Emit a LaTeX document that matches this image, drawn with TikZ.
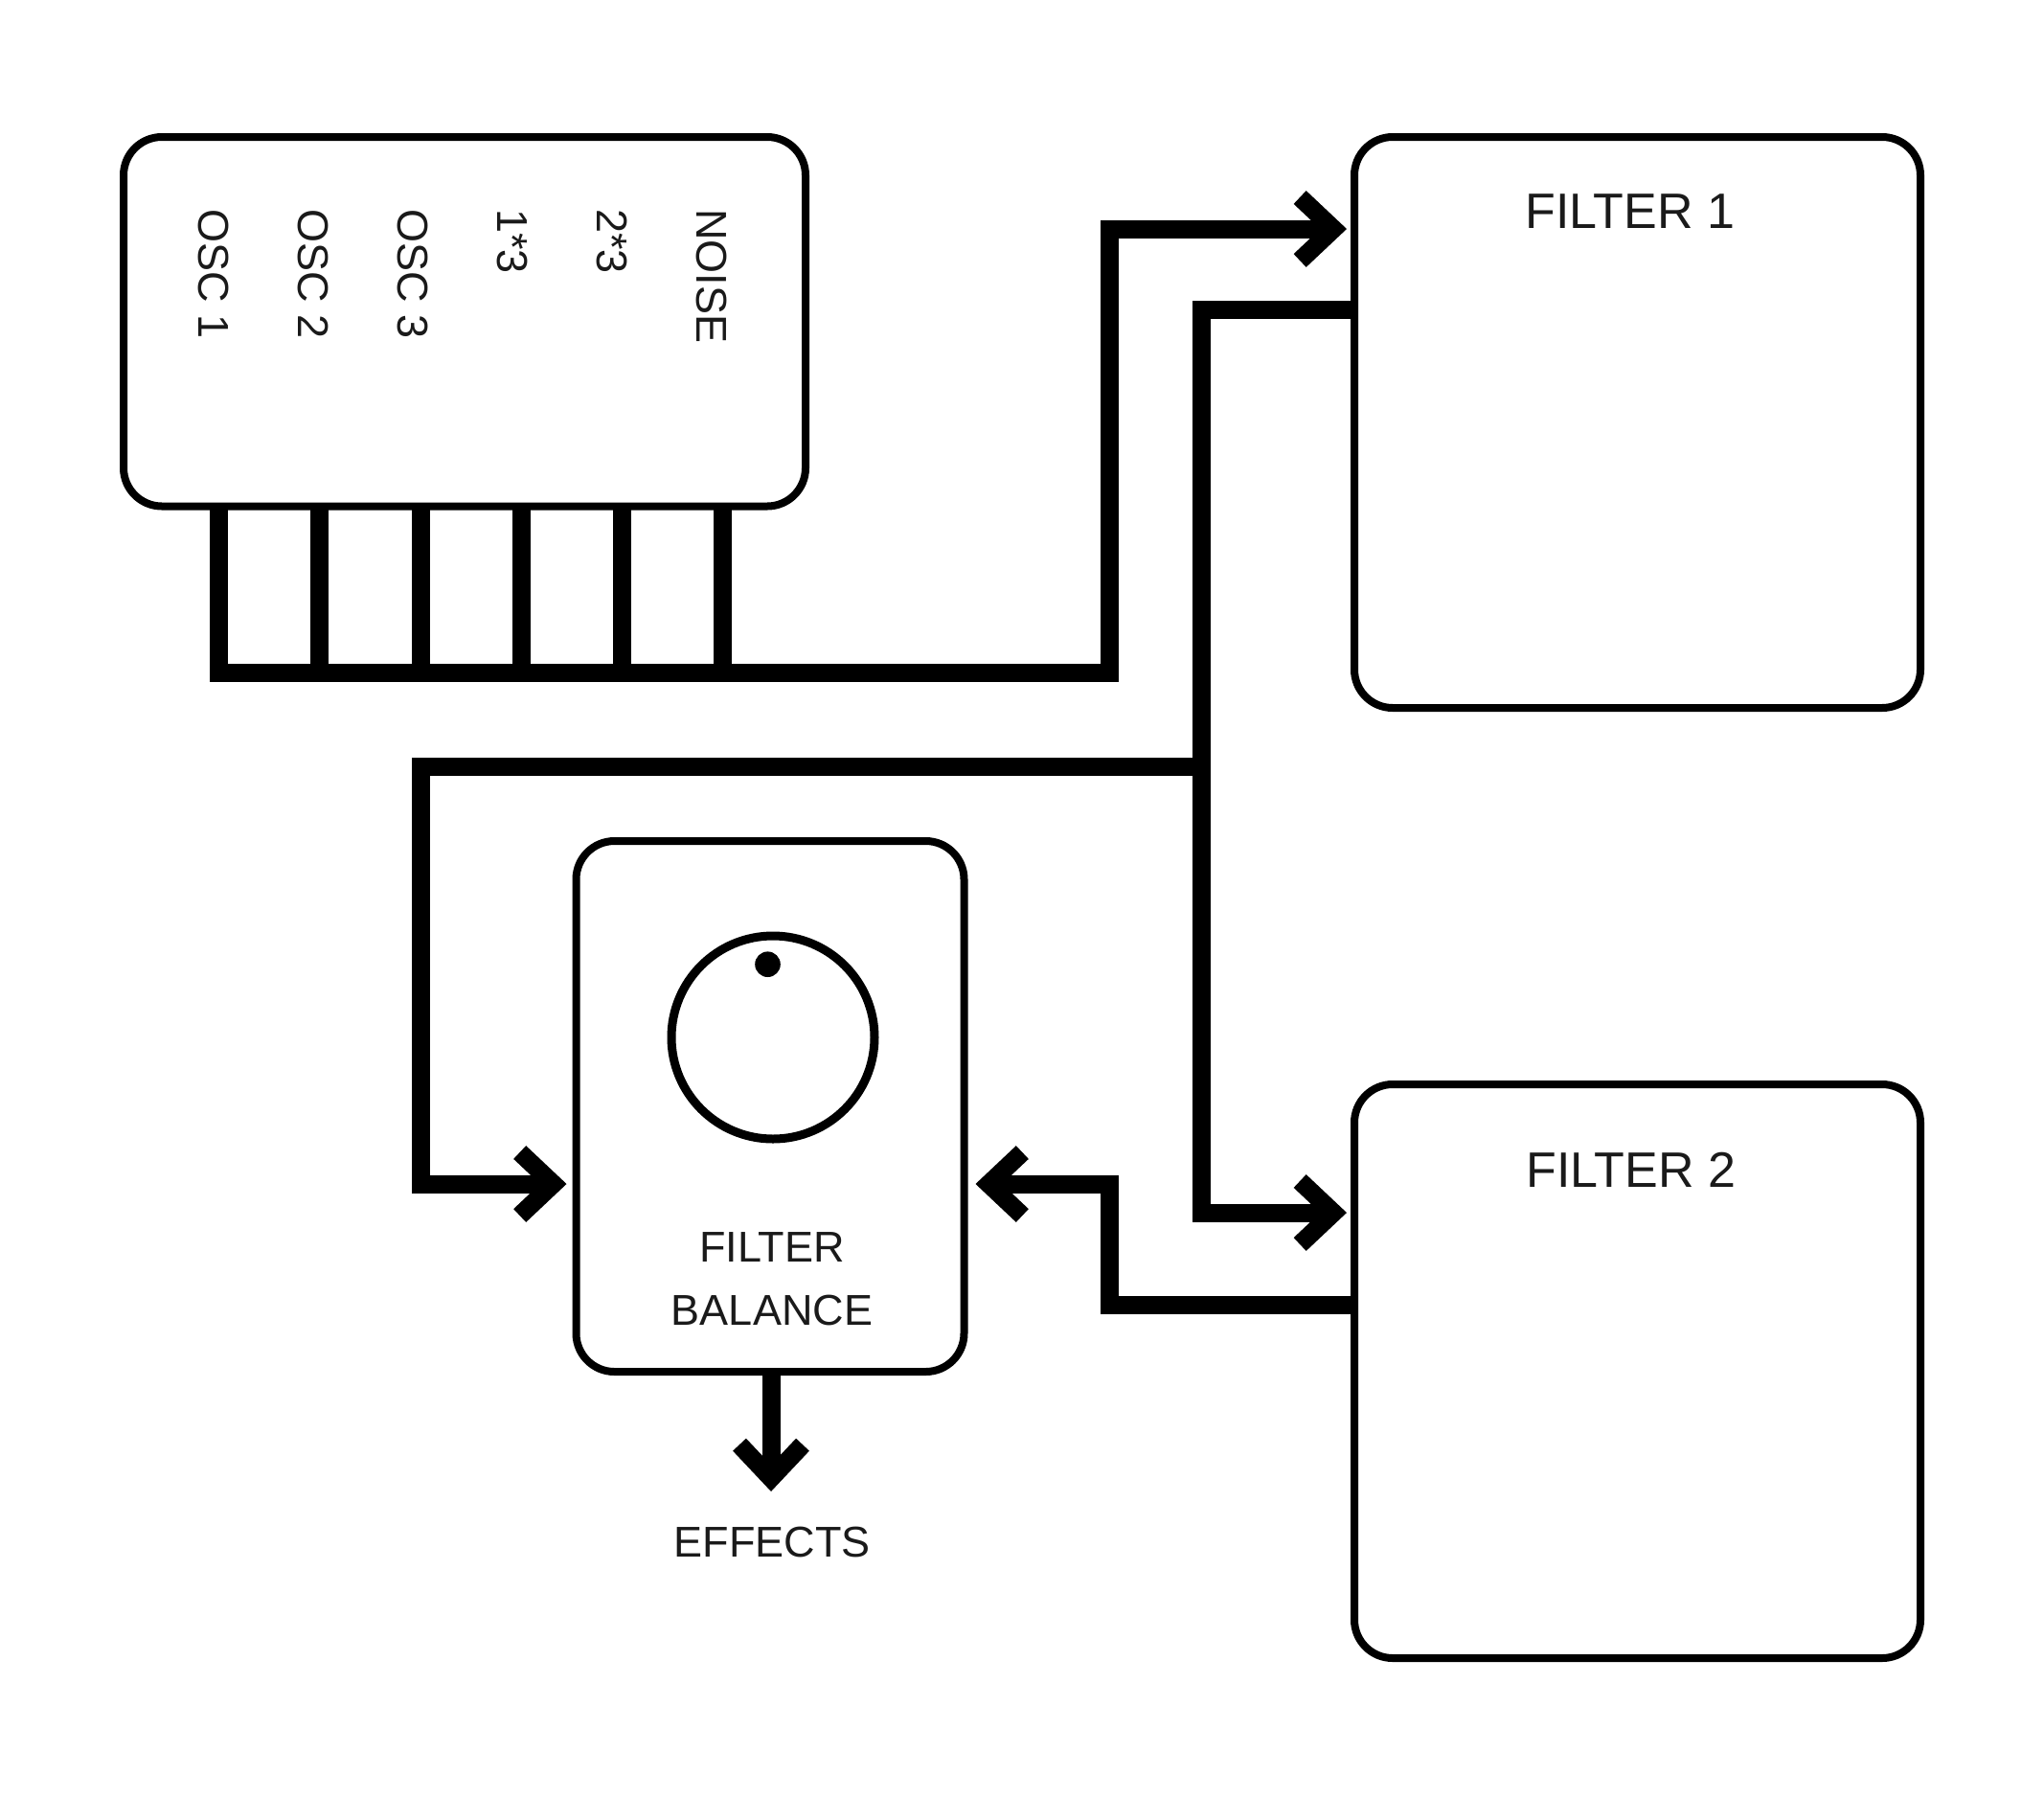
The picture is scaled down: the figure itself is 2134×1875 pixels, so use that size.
\documentclass[tikz,border=0pt]{standalone}
\usepackage{fontspec}
\setmainfont{Liberation Sans}
\usetikzlibrary{arrows.meta}
\definecolor{txt}{HTML}{1A1A1A}
\begin{document}
\begin{tikzpicture}[x=1pt,y=-1pt,
  box/.style={draw, line width=8pt, rounded corners=40pt, inner sep=0pt, outer sep=0pt},
  conn/.style={line width=19pt, line join=miter},
  arr/.style={conn, -{Straight Barb[length=35pt,width=66pt,sharp]}, shorten >=8pt},
  lbl/.style={font=\fontsize{45}{50}\selectfont, text=txt, inner sep=0pt},
  ttl/.style={font=\fontsize{52}{58}\selectfont, text=txt, inner sep=0pt}]
\useasboundingbox (0,0) rectangle (2134,1875);
% boxes
\node[box, minimum width=712pt, minimum height=385.5pt] (mix) at (485,335.75) {};
\node[box, minimum width=591pt, minimum height=596pt] (f1) at (1709.5,441) {};
\node[box, minimum width=591pt, minimum height=599pt] (f2) at (1709.5,1431.5) {};
\node[box, minimum width=405pt, minimum height=554pt] (bal) at (804,1155) {};
\node[draw, circle, line width=9pt, minimum size=212pt, inner sep=0pt] (knob) at (807,1083) {};
\node[circle, fill=black, minimum size=26.6pt, inner sep=0pt] (dot) at (801.5,1006.7) {};
% labels
\node[ttl] (t1) at (1702,220.5) {FILTER 1};
\node[ttl] (t2) at (1703,1221) {FILTER 2};
\node[lbl] (b1) at (806,1302) {FILTER};
\node[lbl] (b2) at (806,1368) {BALANCE};
\node[lbl] (efx) at (806,1610) {EFFECTS};
\node[lbl, rotate=-90, anchor=west] (o1) at (223,218) {OSC 1};
\node[lbl, rotate=-90, anchor=west] (o2) at (327,218) {OSC 2};
\node[lbl, rotate=-90, anchor=west] (o3) at (431,218) {OSC 3};
\node[lbl, rotate=-90, anchor=west] (o4) at (535,218) {1*3};
\node[lbl, rotate=-90, anchor=west] (o5) at (639,218) {2*3};
\node[lbl, rotate=-90, anchor=west] (o6) at (743,218) {NOISE};
% coordinates
\coordinate (bx1) at (228.5,702);
\coordinate (bx2) at (333.5,702);
\coordinate (bx3) at (439,702);
\coordinate (bx4) at (544,702);
\coordinate (bx5) at (649,702);
\coordinate (bx6) at (754,702);
\coordinate (busR) at (1158.5,702);
\coordinate (in1) at (1300,239);
\coordinate (jx) at (1254,323);
\coordinate (in2) at (1300,1266);
\coordinate (jn) at (1254,800);
\coordinate (lft) at (439,800);
\coordinate (in3) at (500,1236);
\coordinate (out2) at (1158.5,1362);
\coordinate (eff) at (805,1557);
% connectors
\draw[arr] (mix.south -| bx1) -- (bx1) -- (busR) |- (f1.west |- in1);
\foreach \i in {2,...,6} \draw[conn] (mix.south -| bx\i) -- (bx\i);
\draw[arr] (f1.west |- jx) -- (jx) |- (f2.west |- in2);
\draw[arr, shorten >=10pt] (jn) -- (lft) |- (bal.west |- in3);
\draw[arr, shorten >=12pt] (f2.west |- out2) -- (out2) |- (bal.east |- in3);
\draw[arr, shorten >=0pt] (bal.south -| eff) -- (eff);
\end{tikzpicture}
\end{document}
